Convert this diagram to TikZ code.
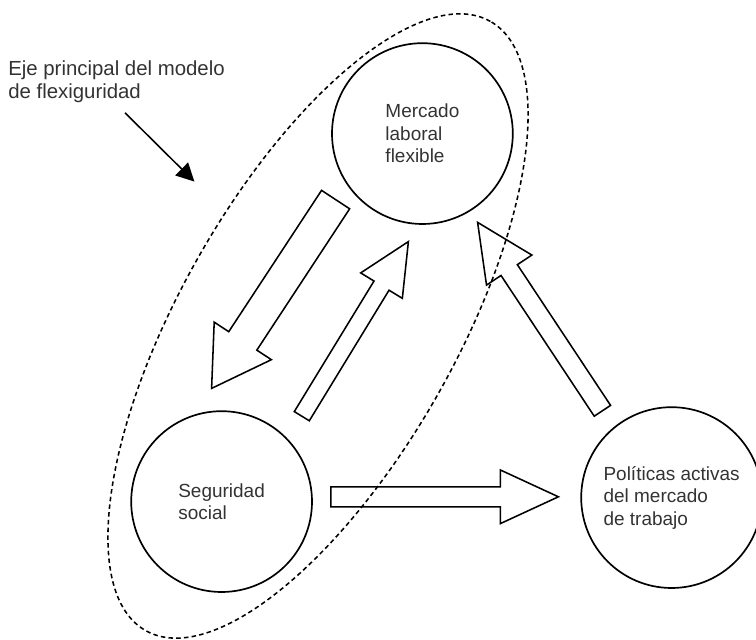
\documentclass[tikz,border=0pt]{standalone}
\usepackage{fontspec}
\setmainfont{Liberation Sans}
\usepackage{xcolor}
\definecolor{tGray}{HTML}{333333}
\usetikzlibrary{arrows.meta, calc}

% hollow block arrow: tail, tip, half shaft, half head, head length
\newcommand{\blockarrow}[5]{%
  \draw[hollow] let \p1=($(#2)!#5!(#1)$) in
    ($(#1)!#3!90:(#2)$) -- ($(\p1)!#3!-90:(#1)$) -- ($(\p1)!#4!-90:(#1)$) -- (#2)
    -- ($(\p1)!#4!90:(#1)$) -- ($(\p1)!#3!90:(#1)$) -- ($(#1)!#3!-90:(#2)$) -- cycle;}

\begin{document}
\begin{tikzpicture}[
  every node/.style={font=\fontsize{13.5}{16}\selectfont, text=tGray},
  bubble/.style={circle, draw, line width=1.2pt, minimum size=4.52cm,
                 inner sep=0pt, align=left},
  hollow/.style={draw, line width=1.1pt, line join=miter},
  ejeline/.style={dash pattern=on 3.2pt off 2.3pt, line width=1.1pt},
  ptr/.style={-{Triangle[length=0.45cm, width=0.45cm]}, line width=1.1pt}
]
\useasboundingbox (0,0) rectangle (18.9,16);

% dashed axis round the two circles
\draw[ejeline, rotate around={60.5:(7.95,7.85)}] (7.95,7.85) ellipse (8.75 and 3.45);

\node[bubble] (mlf) at (10.56,12.66) {Mercado\\laboral\\flexible};
\node[bubble] (ss)  at (5.54,3.46)   {Seguridad\\social};
\node[bubble] (pam) at (16.79,3.56)  {Políticas activas\\del mercado\\de trabajo};

\node[anchor=north west, inner sep=0pt, align=left,
      font=\fontsize{14.5}{16.7}\selectfont] (lbl) at (0.2,14.5)
  {Eje principal del modelo\\de flexiguridad};

% arrow ends
\coordinate (lblS) at (3.125,13.18);
\coordinate (lblE) at (4.86,11.46);
\coordinate (aT) at (8.39,11.01);  \coordinate (aP) at (5.29,6.29);
\coordinate (bT) at (7.545,5.595); \coordinate (bP) at (10.21,9.96);
\coordinate (cT) at (15.06,5.73);  \coordinate (cP) at (11.94,10.44);
\coordinate (dT) at (8.27,3.58);   \coordinate (dP) at (13.96,3.58);

\draw[ptr] (lblS) -- (lblE);

\blockarrow{aT}{aP}{0.42cm}{0.855cm}{1.42cm}
\blockarrow{bT}{bP}{0.22cm}{0.61cm}{1.29cm}
\blockarrow{cT}{cP}{0.245cm}{0.68cm}{1.43cm}
\blockarrow{dT}{dP}{0.25cm}{0.67cm}{1.45cm}
\end{tikzpicture}
\end{document}
